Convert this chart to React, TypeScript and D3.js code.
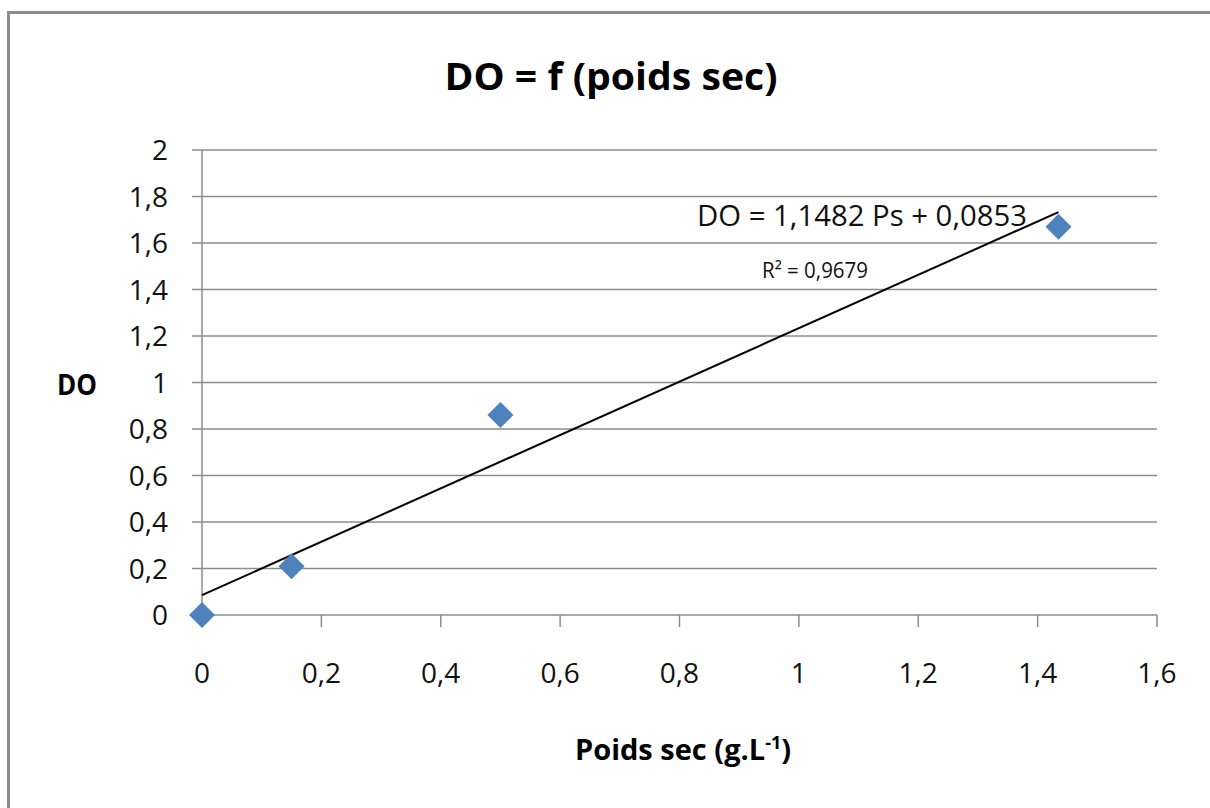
import React, { useRef, useEffect } from 'react';
import * as d3 from 'd3';

// measured points (poids sec g/L, DO)
const poidsSec = [0, 0.15, 0.5, 1.435];
const doValues = [0, 0.21, 0.86, 1.67];
const xTicks = [0, 0.2, 0.4, 0.6, 0.8, 1, 1.2, 1.4, 1.6];
const yTicks = [0, 0.2, 0.4, 0.6, 0.8, 1, 1.2, 1.4, 1.6, 1.8, 2];
const slope = 1.1482;
const intercept = 0.0853;
const r2Label = 'R² = 0,9679';
const eqLabel = 'DO = 1,1482 Ps + 0,0853';

const fmt = (v: number) => String(v).replace('.', ',');

const App = () => {
  const svgRef = useRef<SVGSVGElement>(null);

  useEffect(() => {
    const svg = d3.select(svgRef.current);
    svg.selectAll('*').remove();

    const W = 1210, H = 808;
    const x = d3.scaleLinear().domain([0, 1.6]).range([202, 1157]);
    const y = d3.scaleLinear().domain([0, 2]).range([615, 150]);
    const font = "'Open Sans', sans-serif";
    const grey = '#8c8c8c';

    svg.append('rect').attr('width', W).attr('height', H).attr('fill', '#fff');

    // outer frame (runs off the right / bottom edge)
    svg.append('rect')
      .attr('x', 8.5).attr('y', 12.5)
      .attr('width', W + 20).attr('height', H + 20)
      .attr('fill', 'none').attr('stroke', grey).attr('stroke-width', 3);

    // title
    svg.append('text')
      .attr('x', 611).attr('y', 90)
      .attr('text-anchor', 'middle')
      .attr('font-family', font).attr('font-weight', 700).attr('font-size', 37)
      .attr('textLength', 333).attr('lengthAdjust', 'spacingAndGlyphs')
      .text('DO = f (poids sec)');

    // horizontal gridlines + y ticks
    svg.append('g').selectAll('line')
      .data(yTicks)
      .enter().append('line')
      .attr('x1', x(0) - 10).attr('x2', x(1.6))
      .attr('y1', d => y(d)).attr('y2', d => y(d))
      .attr('stroke', grey).attr('stroke-width', 1.5);

    // y axis line
    svg.append('line')
      .attr('x1', x(0)).attr('x2', x(0))
      .attr('y1', y(2)).attr('y2', y(0))
      .attr('stroke', grey).attr('stroke-width', 1.5);

    // x ticks
    svg.append('g').selectAll('line')
      .data(xTicks)
      .enter().append('line')
      .attr('x1', d => x(d)).attr('x2', d => x(d))
      .attr('y1', y(0)).attr('y2', y(0) + 12)
      .attr('stroke', grey).attr('stroke-width', 1.5);

    // tick labels
    svg.append('g').selectAll('text')
      .data(yTicks)
      .enter().append('text')
      .attr('x', 168).attr('y', d => y(d) + 10)
      .attr('text-anchor', 'end')
      .attr('font-family', font).attr('font-size', 28).attr('fill', '#111')
      .text(d => fmt(d));

    svg.append('g').selectAll('text')
      .data(xTicks)
      .enter().append('text')
      .attr('x', d => x(d)).attr('y', 683)
      .attr('text-anchor', 'middle')
      .attr('font-family', font).attr('font-size', 28).attr('fill', '#111')
      .text(d => fmt(d));

    // axis titles
    svg.append('text')
      .attr('x', 57).attr('y', 395)
      .attr('font-family', font).attr('font-weight', 700).attr('font-size', 29)
      .attr('textLength', 40).attr('lengthAdjust', 'spacingAndGlyphs')
      .text('DO');

    const xl = svg.append('text')
      .attr('x', 575).attr('y', 760)
      .attr('font-family', font).attr('font-weight', 700).attr('font-size', 29);
    xl.append('tspan').text('Poids sec (g.L');
    xl.append('tspan').attr('font-size', 18).attr('dy', -11).text('-1');
    xl.append('tspan').attr('dy', 11).text(')');

    // trend line
    const xMax = d3.max(poidsSec) as number;
    svg.append('line')
      .attr('x1', x(0)).attr('y1', y(intercept))
      .attr('x2', x(xMax)).attr('y2', y(slope * xMax + intercept))
      .attr('stroke', '#000').attr('stroke-width', 2);

    // points
    const pts = poidsSec.map((p, i) => ({ p, v: doValues[i] }));
    svg.append('g').selectAll('path')
      .data(pts)
      .enter().append('path')
      .attr('transform', d => `translate(${x(d.p)},${y(d.v)})`)
      .attr('d', 'M0,-13L13,0L0,13L-13,0Z')
      .attr('fill', '#4f81bd');

    // regression labels
    svg.append('text')
      .attr('x', 697).attr('y', 226)
      .attr('font-family', font).attr('font-size', 30).attr('fill', '#111')
      .attr('textLength', 330).attr('lengthAdjust', 'spacingAndGlyphs')
      .text(eqLabel);

    svg.append('text')
      .attr('x', 762).attr('y', 278)
      .attr('font-family', font).attr('font-size', 21).attr('fill', '#111')
      .attr('textLength', 106).attr('lengthAdjust', 'spacingAndGlyphs')
      .text(r2Label);
  }, []);

  return (
    <svg
      ref={svgRef}
      width={1210}
      height={808}
      style={{ position: 'absolute', left: 0, top: 0, display: 'block' }}
    />
  );
};

export default App;
